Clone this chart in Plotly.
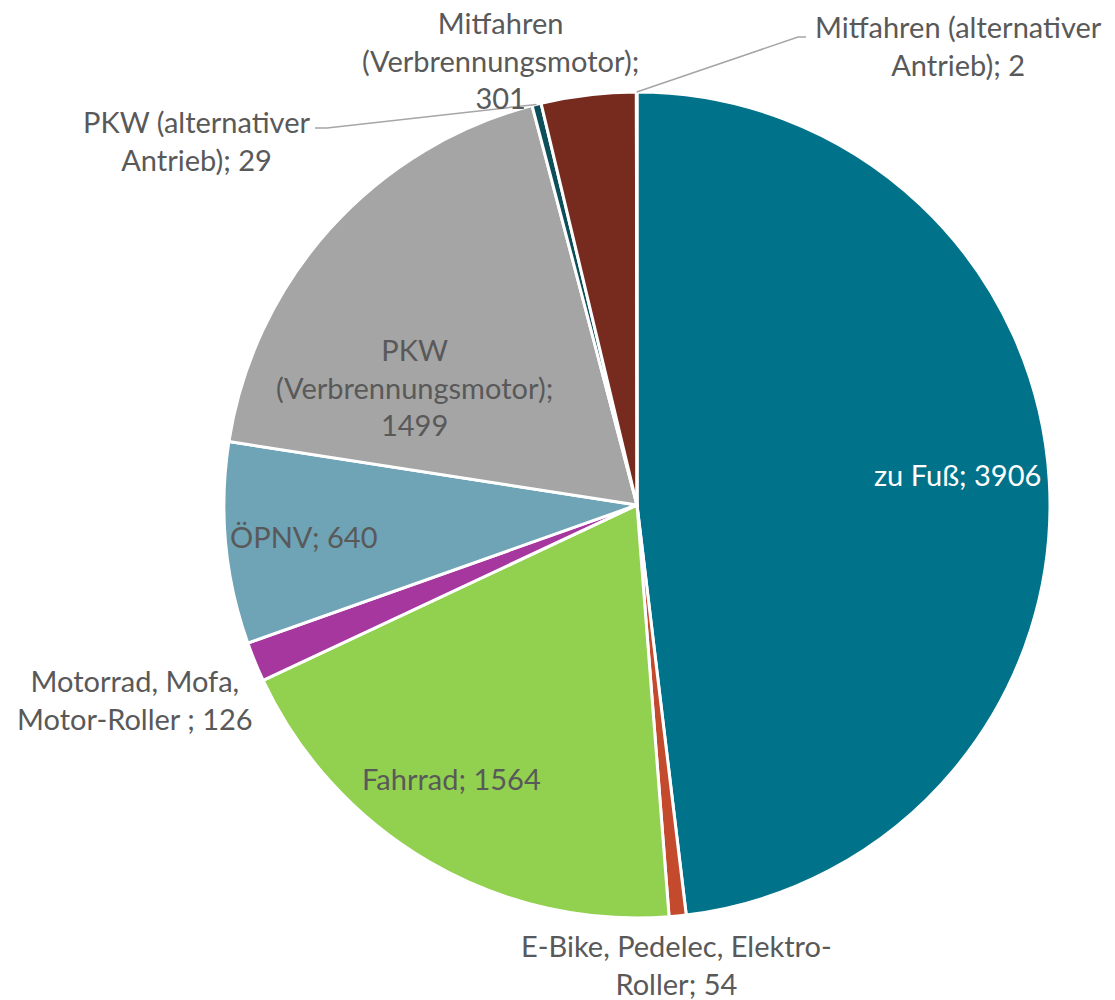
import math
import plotly.graph_objects as go

# ---------------- data ----------------
categories = [
    "zu Fuß",
    "E-Bike, Pedelec, Elektro-Roller",
    "Fahrrad",
    "Motorrad, Mofa, Motor-Roller ",
    "ÖPNV",
    "PKW (Verbrennungsmotor)",
    "PKW (alternativer Antrieb)",
    "Mitfahren (Verbrennungsmotor)",
    "Mitfahren (alternativer Antrieb)",
]
values = [3906, 54, 1564, 126, 640, 1499, 29, 301, 2]
# label text as shown (line breaks as in the chart)
label_lines = [
    ["zu Fuß; 3906"],
    ["E-Bike, Pedelec, Elektro-", "Roller; 54"],
    ["Fahrrad; 1564"],
    ["Motorrad, Mofa,", "Motor-Roller ; 126"],
    ["ÖPNV; 640"],
    ["PKW", "(Verbrennungsmotor);", "1499"],
    ["PKW (alternativer", "Antrieb); 29"],
    ["Mitfahren", "(Verbrennungsmotor);", "301"],
    ["Mitfahren (alternativer", "Antrieb); 2"],
]

# ---------------- styles ----------------
colors = ["#00728A", "#C44A2E", "#92D050", "#A5379F", "#6FA3B6",
          "#A5A5A5", "#0C4F5A", "#772B1E", "#3E7F8F"]
label_colors = ["#FFFFFF"] + ["#595959"] * 8
W, H = 1115, 1000
CX, CY, R = 637, 505, 413          # pie centre / radius in pixels
FONT = "Lato"
FSIZE = 29

# label placement: ("in", radius fraction, angle nudge deg) or ("out", px x, px y)
label_place = [
    ("in", 0.78, -2),
    ("out", 676, 964),
    ("in", 0.80, 4),
    ("out", 135, 699),
    ("in", 0.81, 0),
    ("in", 0.61, -14),
    ("out", 196, 140),
    ("out", 500, 60),
    ("out", 958, 45),
]
# leader-line elbows (px) for slices that get one
leaders = {6: [(327, 128), (315, 128)], 8: [(798, 37), (806, 37)]}

fig = go.Figure(go.Pie(
    labels=categories,
    values=values,
    sort=False,
    direction="clockwise",
    rotation=0,
    marker=dict(colors=colors, line=dict(color="white", width=3)),
    textinfo="none",
    hoverinfo="label+value",
    showlegend=False,
    domain=dict(x=[(CX - R) / W, (CX + R) / W],
                y=[1 - (CY + R) / H, 1 - (CY - R) / H]),
))

total = sum(values)
cum = 0
annotations = []
shapes = []
for i, v in enumerate(values):
    a0 = cum / total * 360
    cum += v
    a1 = cum / total * 360
    mid = (a0 + a1) / 2
    place = label_place[i]
    if place[0] == "in":
        ang = math.radians(mid + place[2])
        px = CX + place[1] * R * math.sin(ang)
        py = CY - place[1] * R * math.cos(ang)
    else:
        px, py = place[1], place[2]
    annotations.append(dict(
        x=px / W, y=1 - py / H, xref="paper", yref="paper",
        text="<br>".join(label_lines[i]), showarrow=False,
        xanchor="center", yanchor="middle", align="center",
        font=dict(family=FONT, size=FSIZE, color=label_colors[i]),
    ))
    if i in leaders:
        ang = math.radians(mid)
        sx = CX + R * math.sin(ang)
        sy = CY - R * math.cos(ang)
        pts = [(sx, sy)] + leaders[i]
        path = "M " + " L ".join(f"{x / W},{1 - y / H}" for x, y in pts)
        shapes.append(dict(type="path", path=path, xref="paper", yref="paper",
                           line=dict(color="#A6A6A6", width=1.5)))

fig.update_layout(
    width=W, height=H,
    margin=dict(l=0, r=0, t=0, b=0),
    paper_bgcolor="white",
    plot_bgcolor="white",
    annotations=annotations,
    shapes=shapes,
)

fig.write_html("out.html",
               config={"displayModeBar": False},
               post_script="document.body.style.margin='0';document.body.style.padding='0';")
